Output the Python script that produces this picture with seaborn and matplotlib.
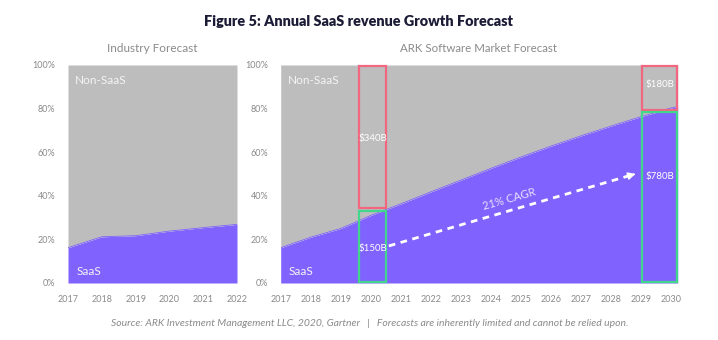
import matplotlib
matplotlib.use("Agg")
import matplotlib.pyplot as plt
import seaborn as sns
import pandas as pd
from matplotlib.patches import Rectangle

# ---------------- data ----------------
left_years = [2017, 2018, 2019, 2020, 2021, 2022]
left_saas = [16.2, 21.2, 21.7, 23.8, 25.4, 26.9]

right_years = list(range(2017, 2031))
right_saas = [16.2, 21.0, 25.0, 31.0, 36.3, 41.8, 47.2, 52.6, 57.8, 62.8, 67.5, 72.0, 76.3, 80.3]

box_2020_saas = "$150B"
box_2020_non = "$340B"
box_2030_saas = "$780B"
box_2030_non = "$180B"
cagr_label = "21% CAGR"

y_ticks = [0, 20, 40, 60, 80, 100]
y_tick_labels = ["0%", "20%", "40%", "60%", "80%", "100%"]

# ---------------- style ----------------
sns.set_theme(style="white")
plt.rcParams["font.family"] = ["Lato", "DejaVu Sans"]

PURPLE = "#8063fe"
GRAY = "#bdbdbd"
RED = "#f2677f"
GREEN = "#42d68c"
TICK = "#8a8a8a"

fig = plt.figure(figsize=(7.18, 3.4), dpi=100)
W, H = 718, 340
ax1 = fig.add_axes([68 / W, 57 / H, 169 / W, 218 / H])
ax2 = fig.add_axes([280.7 / W, 57 / H, 397 / W, 218 / H])

def draw_area(ax, years, saas, xmax):
    df = pd.DataFrame({"year": years, "saas": saas})
    # extend to the axis edge with the last value
    xs = list(df["year"]) + ([xmax] if xmax > df["year"].iloc[-1] else [])
    ys = list(df["saas"]) + ([df["saas"].iloc[-1] + 0.6] if xmax > df["year"].iloc[-1] else [])
    ax.fill_between(xs, 0, ys, color=PURPLE, linewidth=0)
    ax.fill_between(xs, ys, 100, color=GRAY, linewidth=0)
    sns.lineplot(x=xs, y=ys, ax=ax, color=PURPLE, linewidth=0.6)
    ax.set_xlim(years[0], xmax)
    ax.set_ylim(0, 100)
    ax.set_yticks(y_ticks)
    ax.set_yticklabels(y_tick_labels)
    ax.set_xticks(years)
    ax.set_xticklabels([str(y) for y in years])
    ax.tick_params(axis="both", length=0, labelsize=6.5, colors=TICK)
    ax.tick_params(axis="x", pad=9)
    ax.tick_params(axis="y", pad=9)
    for s in ax.spines.values():
        s.set_visible(False)
    ax.set_xlabel("")
    ax.set_ylabel("")

draw_area(ax1, left_years, left_saas, 2022)
draw_area(ax2, right_years, right_saas, 2030.22)

label_kw = dict(color="#f4f4f4", fontsize=8.5, va="center", ha="left")
ax1.text(2017.2, 93, "Non-SaaS", **label_kw)
ax1.text(2017.26, 5.5, "SaaS", **label_kw)
ax2.text(2017.25, 93, "Non-SaaS", **label_kw)
ax2.text(2017.25, 5.5, "SaaS", **label_kw)

# boxes
def box(ax, x0, x1, y0, y1, color):
    ax.add_patch(Rectangle((x0, y0), x1 - x0, y1 - y0, fill=False,
                           edgecolor=color, linewidth=1.6, clip_on=False, zorder=5))

box(ax2, 2019.6, 2020.52, 34.2, 99.5, RED)
box(ax2, 2019.6, 2020.52, 0.3, 33.2, GREEN)
box(ax2, 2029.04, 2030.19, 79.2, 99.5, RED)
box(ax2, 2029.04, 2030.19, 0.3, 78.3, GREEN)

bkw = dict(color="white", fontsize=7, ha="center", va="center", zorder=6)
ax2.text(2020.06, 66.5, box_2020_non, **bkw)
ax2.text(2020.06, 16, box_2020_saas, **bkw)
ax2.text(2029.62, 91, box_2030_non, **bkw)
ax2.text(2029.62, 49, box_2030_saas, **bkw)

# CAGR arrow
x0, y0, x1, y1 = 2020.6, 17.0, 2028.9, 50.4
ax2.plot([x0, x1 - 0.15], [y0, y1 - 0.6], color="white", linewidth=2,
         linestyle=(0, (2.4, 2.0)), zorder=4)
ax2.annotate("", xy=(x1, y1), xytext=(x1 - 0.25, y1 - 1.0),
             arrowprops=dict(arrowstyle="-|>,head_length=0.35,head_width=0.18",
                             color="white", lw=1.2), zorder=4)
ax2.text(2024.6, 38.5, cagr_label, color="#e6e1ff", fontsize=8, rotation=16,
         ha="center", va="center")

# titles
fig.text(358 / W, 1 - 22 / H, "Figure 5: Annual SaaS revenue Growth Forecast",
         ha="center", va="center", fontsize=10.4, fontweight="heavy", color="#1b1b36")
fig.text(152 / W, 1 - 49 / H, "Industry Forecast", ha="center", va="center",
         fontsize=8.5, color="#8a8a8a")
fig.text(479 / W, 1 - 49 / H, "ARK Software Market Forecast", ha="center", va="center",
         fontsize=8.3, color="#8a8a8a")
fig.text(370 / W, 1 - 323 / H,
         "Source: ARK Investment Management LLC, 2020, Gartner   |   Forecasts are inherently limited and cannot be relied upon.",
         ha="center", va="center", fontsize=7.5, style="italic", color="#8a8a8a")

fig.savefig("out.png", dpi=100)
